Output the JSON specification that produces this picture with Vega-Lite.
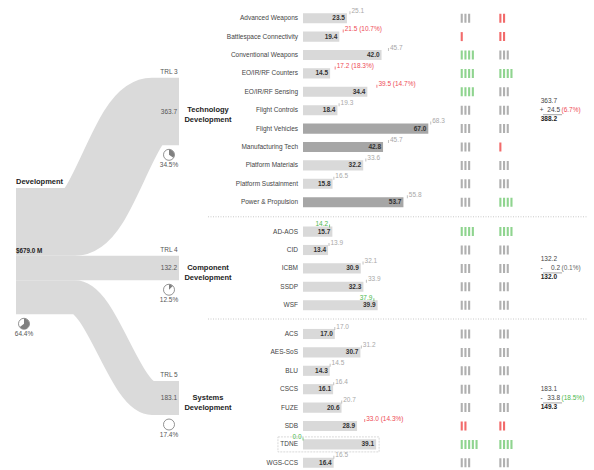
{
  "$schema": "https://vega.github.io/schema/vega-lite/v6.json",
  "padding": {"left": 0, "top": 7, "right": 0, "bottom": 0},
  "bounds": "flush",
  "spacing": 0,
  "config": {
    "view": {"stroke": null},
    "font": "Liberation Sans",
    "text": {"font": "Liberation Sans", "fontSize": 6.5, "color": "#333", "baseline": "middle"}
  },
  "datasets": {
    "flows": [
      {"node": "Technology Development", "stage": 0, "pos": 181.85, "amount": 363.7},
      {"node": "Technology Development", "stage": 1, "pos": 181.85, "amount": 363.7},
      {"node": "Technology Development", "stage": 2, "pos": -411.3, "amount": 363.7},
      {"node": "Technology Development", "stage": 3, "pos": -411.3, "amount": 363.7},
      {"node": "Component Development", "stage": 0, "pos": 429.8, "amount": 132.2},
      {"node": "Component Development", "stage": 1, "pos": 429.8, "amount": 132.2},
      {"node": "Component Development", "stage": 2, "pos": 429.8, "amount": 132.2},
      {"node": "Component Development", "stage": 3, "pos": 429.8, "amount": 132.2},
      {"node": "Systems Development", "stage": 0, "pos": 587.45, "amount": 183.1},
      {"node": "Systems Development", "stage": 1, "pos": 587.45, "amount": 183.1},
      {"node": "Systems Development", "stage": 2, "pos": 1129, "amount": 183.1},
      {"node": "Systems Development", "stage": 3, "pos": 1129, "amount": 183.1}
    ],
    "nodes": [
      {"node": "Technology Development", "trl": "TRL 3", "amount": 363.7, "share": 34.5, "pos": -411.3},
      {"node": "Component Development", "trl": "TRL 4", "amount": 132.2, "share": 12.5, "pos": 429.8},
      {"node": "Systems Development", "trl": "TRL 5", "amount": 183.1, "share": 17.4, "pos": 1129}
    ],
    "source": [{"node": "Development", "amount": 679.0, "share": 64.4}],
    "summary": [
      {"group": "Technology Development", "budget": 363.7, "change": 24.5, "changePct": 6.7, "total": 388.2},
      {"group": "Component Development", "budget": 132.2, "change": -0.2, "changePct": -0.1, "total": 132.0},
      {"group": "Systems Development", "budget": 183.1, "change": -33.8, "changePct": -18.5, "total": 149.3}
    ],
    "items": [
      {"group": "Technology Development", "item": "Advanced Weapons", "value": 23.5, "target": 25.1, "s1": 3, "s2": 2},
      {"group": "Technology Development", "item": "Battlespace Connectivity", "value": 19.4, "target": 21.5, "pct": 10.7, "s1": 1, "s2": 2},
      {"group": "Technology Development", "item": "Conventional Weapons", "value": 42.0, "target": 45.7, "s1": 4, "s2": 3},
      {"group": "Technology Development", "item": "EO/IR/RF Counters", "value": 14.5, "target": 17.2, "pct": 18.3, "s1": 4, "s2": 4},
      {"group": "Technology Development", "item": "EO/IR/RF Sensing", "value": 34.4, "target": 39.5, "pct": 14.7, "s1": 4, "s2": 3},
      {"group": "Technology Development", "item": "Flight Controls", "value": 18.4, "target": 19.3, "s1": 3, "s2": 3},
      {"group": "Technology Development", "item": "Flight Vehicles", "value": 67.0, "target": 68.3, "core": true, "s1": 3, "s2": 3},
      {"group": "Technology Development", "item": "Manufacturing Tech", "value": 42.8, "target": 45.7, "core": true, "s1": 3, "s2": 1},
      {"group": "Technology Development", "item": "Platform Materials", "value": 32.2, "target": 33.6, "s1": 3, "s2": 3},
      {"group": "Technology Development", "item": "Platform Sustainment", "value": 15.8, "target": 16.5, "s1": 3, "s2": 3},
      {"group": "Technology Development", "item": "Power & Propulsion", "value": 53.7, "target": 55.8, "core": true, "s1": 3, "s2": 4},
      {"group": "Component Development", "item": "AD-AOS", "value": 15.7, "target": 14.2, "s1": 4, "s2": 4},
      {"group": "Component Development", "item": "CID", "value": 13.4, "target": 13.9, "s1": 3, "s2": 3},
      {"group": "Component Development", "item": "ICBM", "value": 30.9, "target": 32.1, "s1": 3, "s2": 3},
      {"group": "Component Development", "item": "SSDP", "value": 32.3, "target": 33.9, "s1": 3, "s2": 3},
      {"group": "Component Development", "item": "WSF", "value": 39.9, "target": 37.9, "s1": 3, "s2": 3},
      {"group": "Systems Development", "item": "ACS", "value": 17.0, "target": 17.0, "s1": 3, "s2": 3},
      {"group": "Systems Development", "item": "AES-SoS", "value": 30.7, "target": 31.2, "s1": 3, "s2": 3},
      {"group": "Systems Development", "item": "BLU", "value": 14.3, "target": 14.5, "s1": 3, "s2": 3},
      {"group": "Systems Development", "item": "CSCS", "value": 16.1, "target": 16.4, "s1": 3, "s2": 3},
      {"group": "Systems Development", "item": "FUZE", "value": 20.6, "target": 20.7, "s1": 3, "s2": 3},
      {"group": "Systems Development", "item": "SDB", "value": 28.9, "target": 33.0, "pct": 14.3, "s1": 2, "s2": 2},
      {"group": "Systems Development", "item": "TDNE", "value": 39.1, "target": 0.0, "s1": 5, "s2": 4},
      {"group": "Systems Development", "item": "WGS-CCS", "value": 16.4, "target": 16.5, "s1": 3, "s2": 3}
    ]
  },
  "resolve": {"scale": {"x": "independent", "y": "independent"}},
  "hconcat": [
    {
      "width": 200,
      "height": 462,
      "layer": [
        {
          "data": {"name": "flows"},
          "mark": {"type": "line", "interpolate": "monotone", "color": "#dadada", "strokeCap": "butt", "strokeJoin": "round", "clip": true},
          "encoding": {
            "x": {"field": "stage", "type": "quantitative", "scale": {"domain": [0, 1, 2, 3], "range": [16, 75, 152, 179], "nice": false, "zero": false}, "axis": null},
            "y": {"field": "pos", "type": "quantitative", "scale": {"domain": [-962.4, 1521.5], "reverse": true, "nice": false, "zero": false}, "axis": null},
            "detail": {"field": "node"},
            "strokeWidth": {"field": "amount", "type": "quantitative", "scale": {"domain": [0, 679], "range": [0, 126.3]}, "legend": null}
          }
        },
        {
          "data": {"name": "nodes"},
          "transform": [
            {"calculate": "datum.pos - datum.amount / 2", "as": "top"},
            {"calculate": "datum.pos + datum.amount / 2", "as": "bottom"},
            {"calculate": "format(datum.share, '.1f') + '%'", "as": "shareLabel"}
          ],
          "encoding": {
            "x": {"datum": 3, "type": "quantitative", "scale": {"domain": [0, 1, 2, 3], "range": [16, 75, 152, 179], "nice": false, "zero": false}, "axis": null}
          },
          "layer": [
            {
              "mark": {"type": "text", "align": "center", "dx": -10, "dy": -5.5, "fontSize": 6.5, "color": "#555"},
              "encoding": {
                "y": {"field": "top", "type": "quantitative", "scale": {"domain": [-962.4, 1521.5], "reverse": true, "nice": false, "zero": false}, "axis": null},
                "text": {"field": "trl"}
              }
            },
            {
              "mark": {"type": "text", "align": "center", "dx": -10, "fontSize": 6.5, "color": "#555"},
              "encoding": {
                "y": {"field": "pos", "type": "quantitative", "scale": {"domain": [-962.4, 1521.5], "reverse": true, "nice": false, "zero": false}, "axis": null},
                "text": {"field": "amount", "format": ".1f"}
              }
            },
            {
              "mark": {"type": "point", "shape": "circle", "size": 121, "filled": true, "color": "white", "stroke": "#777", "strokeWidth": 0.8, "opacity": 1, "xOffset": -10, "yOffset": 9.5},
              "encoding": {
                "y": {"field": "bottom", "type": "quantitative", "scale": {"domain": [-962.4, 1521.5], "reverse": true, "nice": false, "zero": false}, "axis": null}
              }
            },
            {
              "mark": {"type": "arc", "outerRadius": 5.3, "color": "#808080", "xOffset": -10, "yOffset": 9.5},
              "encoding": {
                "y": {"field": "bottom", "type": "quantitative", "scale": {"domain": [-962.4, 1521.5], "reverse": true, "nice": false, "zero": false}, "axis": null},
                "theta": {"field": "share", "type": "quantitative", "stack": null, "scale": {"domain": [0, 100], "range": [0, 6.2832], "zero": true}}
              }
            },
            {
              "mark": {"type": "text", "align": "center", "dx": -10, "dy": 20, "fontSize": 6.5, "color": "#555"},
              "encoding": {
                "y": {"field": "bottom", "type": "quantitative", "scale": {"domain": [-962.4, 1521.5], "reverse": true, "nice": false, "zero": false}, "axis": null},
                "text": {"field": "shareLabel"}
              }
            }
          ]
        },
        {
          "data": {"name": "source"},
          "transform": [
            {"calculate": "datum.amount / 2", "as": "mid"},
            {"calculate": "'$' + format(datum.amount, '.1f') + ' M'", "as": "amountLabel"},
            {"calculate": "format(datum.share, '.1f') + '%'", "as": "shareLabel"}
          ],
          "encoding": {
            "x": {"datum": 0, "type": "quantitative", "scale": {"domain": [0, 1, 2, 3], "range": [16, 75, 152, 179], "nice": false, "zero": false}, "axis": null}
          },
          "layer": [
            {
              "mark": {"type": "text", "align": "left", "dy": -6.5, "fontSize": 7.5, "fontWeight": "bold", "color": "#222"},
              "encoding": {
                "y": {"datum": 0, "type": "quantitative", "scale": {"domain": [-962.4, 1521.5], "reverse": true, "nice": false, "zero": false}, "axis": null},
                "text": {"field": "node"}
              }
            },
            {
              "mark": {"type": "text", "align": "left", "fontSize": 6.3, "fontWeight": "bold", "color": "#222"},
              "encoding": {
                "y": {"field": "mid", "type": "quantitative", "scale": {"domain": [-962.4, 1521.5], "reverse": true, "nice": false, "zero": false}, "axis": null},
                "text": {"field": "amountLabel"}
              }
            },
            {
              "mark": {"type": "point", "shape": "circle", "size": 121, "filled": true, "color": "white", "stroke": "#777", "strokeWidth": 0.8, "opacity": 1, "xOffset": 8, "yOffset": 9.5},
              "encoding": {
                "y": {"field": "amount", "type": "quantitative", "scale": {"domain": [-962.4, 1521.5], "reverse": true, "nice": false, "zero": false}, "axis": null}
              }
            },
            {
              "mark": {"type": "arc", "outerRadius": 5.3, "color": "#808080", "xOffset": 8, "yOffset": 9.5},
              "encoding": {
                "y": {"field": "amount", "type": "quantitative", "scale": {"domain": [-962.4, 1521.5], "reverse": true, "nice": false, "zero": false}, "axis": null},
                "theta": {"field": "share", "type": "quantitative", "stack": null, "scale": {"domain": [0, 100], "range": [0, 6.2832], "zero": true}}
              }
            },
            {
              "mark": {"type": "text", "align": "center", "dx": 8, "dy": 20, "fontSize": 6.5, "color": "#555"},
              "encoding": {
                "y": {"field": "amount", "type": "quantitative", "scale": {"domain": [-962.4, 1521.5], "reverse": true, "nice": false, "zero": false}, "axis": null},
                "text": {"field": "shareLabel"}
              }
            }
          ]
        }
      ]
    },
    {
      "vconcat": [
        {
          "width": 394,
          "height": {"step": 18.4},
          "resolve": {"scale": {"x": "independent"}},
          "layer": [
            {
              "data": {"name": "items"},
              "transform": [
                {"filter": "datum.group === 'Technology Development'"},
                {"calculate": "format(datum.target, '.1f') + (isValid(datum.pct) ? ' (' + format(datum.pct, '.1f') + '%)' : '')", "as": "label"}
              ],
              "encoding": {"y": {"field": "item", "type": "nominal", "axis": null, "scale": {"paddingInner": 0.45, "paddingOuter": 0.225}}},
              "layer": [
                {"mark": {"type": "text", "align": "right", "dx": -5, "fontSize": 6.5, "color": "#444"},
                 "encoding": {"x": {"datum": 0, "type": "quantitative", "scale": {"domain": [-55.08, 155.6], "nice": false, "zero": false}, "axis": null}, "text": {"field": "item"}}},
                {"mark": {"type": "bar"},
                 "encoding": {"x": {"field": "value", "type": "quantitative", "scale": {"domain": [-55.08, 155.6], "nice": false, "zero": false}, "axis": null},
                   "color": {"condition": {"test": "datum.core", "value": "#a6a6a6"}, "value": "#d9d9d9"}}},
                {"mark": {"type": "text", "align": "right", "dx": -2, "fontSize": 6.5, "fontWeight": "bold", "color": "#333"},
                 "encoding": {"x": {"field": "value", "type": "quantitative", "scale": {"domain": [-55.08, 155.6], "nice": false, "zero": false}, "axis": null}, "text": {"field": "value", "format": ".1f"}}},
                {"mark": {"type": "tick", "orient": "vertical", "size": 3, "thickness": 1, "yOffset": -5.5},
                 "encoding": {"x": {"field": "target", "type": "quantitative", "scale": {"domain": [-55.08, 155.6], "nice": false, "zero": false}, "axis": null},
                   "color": {"condition": [{"test": "datum.target < datum.value", "value": "#4cb84c"}, {"test": "isValid(datum.pct)", "value": "#ee4b55"}], "value": "#a8a8a8"}}},
                {"transform": [{"filter": "datum.target >= datum.value"}],
                 "mark": {"type": "text", "align": "left", "dx": 1.5, "dy": -7.5, "fontSize": 6.5},
                 "encoding": {"x": {"field": "target", "type": "quantitative", "scale": {"domain": [-55.08, 155.6], "nice": false, "zero": false}, "axis": null}, "text": {"field": "label"},
                   "color": {"condition": [{"test": "datum.target < datum.value", "value": "#4cb84c"}, {"test": "isValid(datum.pct)", "value": "#ee4b55"}], "value": "#a8a8a8"}}},
                {"transform": [{"filter": "datum.target < datum.value"}],
                 "mark": {"type": "text", "align": "right", "dx": -1.5, "dy": -7.5, "fontSize": 6.5},
                 "encoding": {"x": {"field": "target", "type": "quantitative", "scale": {"domain": [-55.08, 155.6], "nice": false, "zero": false}, "axis": null}, "text": {"field": "label"},
                   "color": {"condition": [{"test": "datum.target < datum.value", "value": "#4cb84c"}, {"test": "isValid(datum.pct)", "value": "#ee4b55"}], "value": "#a8a8a8"}}}
              ]
            },
            {
              "data": {"name": "items"},
              "transform": [{"filter": "datum.group === 'Technology Development'"}],
              "mark": {"type": "rule", "strokeWidth": 9, "strokeDash": [2.1, 1.6], "xOffset": -1.6},
              "encoding": {
                "y": {"field": "item", "type": "nominal", "axis": null, "scale": {"paddingInner": 0.45, "paddingOuter": 0.225}},
                "x": {"field": "s1", "type": "quantitative", "scale": {"domain": [-70.46, 36.03], "nice": false, "zero": false}, "axis": null},
                "x2": {"datum": 0},
                "color": {"condition": [{"test": "datum.s1 <= 2", "value": "#f26b6b"}, {"test": "datum.s1 >= 4", "value": "#8fd48f"}], "value": "#b0b0b0"}
              }
            },
            {
              "data": {"name": "items"},
              "transform": [{"filter": "datum.group === 'Technology Development'"}],
              "mark": {"type": "rule", "strokeWidth": 9, "strokeDash": [2.1, 1.6], "xOffset": -1.6},
              "encoding": {
                "y": {"field": "item", "type": "nominal", "axis": null, "scale": {"paddingInner": 0.45, "paddingOuter": 0.225}},
                "x": {"field": "s2", "type": "quantitative", "scale": {"domain": [-80.89, 25.59], "nice": false, "zero": false}, "axis": null},
                "x2": {"datum": 0},
                "color": {"condition": [{"test": "datum.s2 <= 2", "value": "#f26b6b"}, {"test": "datum.s2 >= 4", "value": "#8fd48f"}], "value": "#b0b0b0"}
              }
            },
            {
              "data": {"name": "summary"},
              "transform": [
                {"filter": "datum.group === 'Technology Development'"},
                {"calculate": "datum.change >= 0 ? '+' : '-'", "as": "sign"},
                {"calculate": "abs(datum.change)", "as": "absChange"},
                {"calculate": "'(' + format(abs(datum.changePct), '.1f') + '%)'", "as": "pctLabel"}
              ],
              "encoding": {"y": {"datum": "Flight Controls", "type": "nominal", "axis": null}},
              "layer": [
                {"mark": {"type": "text", "align": "center", "fontSize": 7.5, "fontWeight": "bold", "color": "#222", "lineBreak": " ", "lineHeight": 10},
                 "encoding": {"x": {"datum": -50.8, "type": "quantitative", "scale": {"domain": [-55.08, 155.6], "nice": false, "zero": false}, "axis": null}, "text": {"field": "group"}}},
                {"mark": {"type": "text", "align": "right", "dy": -9, "fontSize": 6.5, "color": "#444"},
                 "encoding": {"x": {"datum": 135.83, "type": "quantitative", "scale": {"domain": [-55.08, 155.6], "nice": false, "zero": false}, "axis": null}, "text": {"field": "budget", "format": ".1f"}}},
                {"mark": {"type": "text", "align": "center", "fontSize": 6.5, "color": "#444"},
                 "encoding": {"x": {"datum": 127.54, "type": "quantitative", "scale": {"domain": [-55.08, 155.6], "nice": false, "zero": false}, "axis": null}, "text": {"field": "sign"}}},
                {"mark": {"type": "text", "align": "right", "fontSize": 6.5, "color": "#444"},
                 "encoding": {"x": {"datum": 137.43, "type": "quantitative", "scale": {"domain": [-55.08, 155.6], "nice": false, "zero": false}, "axis": null}, "text": {"field": "absChange", "format": ".1f"}}},
                {"mark": {"type": "text", "align": "left", "fontSize": 6.5},
                 "encoding": {"x": {"datum": 138.24, "type": "quantitative", "scale": {"domain": [-55.08, 155.6], "nice": false, "zero": false}, "axis": null}, "text": {"field": "pctLabel"},
                   "color": {"condition": [{"test": "datum.change > 1", "value": "#ee4b55"}, {"test": "datum.change < -1", "value": "#4cb84c"}], "value": "#666"}}},
                {"mark": {"type": "text", "align": "right", "dy": 9, "fontSize": 6.5, "fontWeight": "bold", "color": "#222"},
                 "encoding": {"x": {"datum": 135.83, "type": "quantitative", "scale": {"domain": [-55.08, 155.6], "nice": false, "zero": false}, "axis": null}, "text": {"field": "total", "format": ".1f"}}},
                {"mark": {"type": "rule", "color": "#666", "strokeWidth": 0.6, "yOffset": 4.5},
                 "encoding": {"x": {"datum": 128.34, "type": "quantitative", "scale": {"domain": [-55.08, 155.6], "nice": false, "zero": false}, "axis": null}, "x2": {"datum": 138.51}}}
              ]
            }
          ]
        },
        {
          "width": 394,
          "height": {"step": 18.4},
          "resolve": {"scale": {"x": "independent"}},
          "layer": [
            {
              "data": {"name": "items"},
              "transform": [
                {"filter": "datum.group === 'Component Development'"},
                {"calculate": "format(datum.target, '.1f') + (isValid(datum.pct) ? ' (' + format(datum.pct, '.1f') + '%)' : '')", "as": "label"}
              ],
              "encoding": {"y": {"field": "item", "type": "nominal", "axis": null, "scale": {"paddingInner": 0.45, "paddingOuter": 0.225}}},
              "layer": [
                {"mark": {"type": "text", "align": "right", "dx": -5, "fontSize": 6.5, "color": "#444"},
                 "encoding": {"x": {"datum": 0, "type": "quantitative", "scale": {"domain": [-55.08, 155.6], "nice": false, "zero": false}, "axis": null}, "text": {"field": "item"}}},
                {"mark": {"type": "bar"},
                 "encoding": {"x": {"field": "value", "type": "quantitative", "scale": {"domain": [-55.08, 155.6], "nice": false, "zero": false}, "axis": null},
                   "color": {"condition": {"test": "datum.core", "value": "#a6a6a6"}, "value": "#d9d9d9"}}},
                {"mark": {"type": "text", "align": "right", "dx": -2, "fontSize": 6.5, "fontWeight": "bold", "color": "#333"},
                 "encoding": {"x": {"field": "value", "type": "quantitative", "scale": {"domain": [-55.08, 155.6], "nice": false, "zero": false}, "axis": null}, "text": {"field": "value", "format": ".1f"}}},
                {"mark": {"type": "tick", "orient": "vertical", "size": 3, "thickness": 1, "yOffset": -5.5},
                 "encoding": {"x": {"field": "target", "type": "quantitative", "scale": {"domain": [-55.08, 155.6], "nice": false, "zero": false}, "axis": null},
                   "color": {"condition": [{"test": "datum.target < datum.value", "value": "#4cb84c"}, {"test": "isValid(datum.pct)", "value": "#ee4b55"}], "value": "#a8a8a8"}}},
                {"transform": [{"filter": "datum.target >= datum.value"}],
                 "mark": {"type": "text", "align": "left", "dx": 1.5, "dy": -7.5, "fontSize": 6.5},
                 "encoding": {"x": {"field": "target", "type": "quantitative", "scale": {"domain": [-55.08, 155.6], "nice": false, "zero": false}, "axis": null}, "text": {"field": "label"},
                   "color": {"condition": [{"test": "datum.target < datum.value", "value": "#4cb84c"}, {"test": "isValid(datum.pct)", "value": "#ee4b55"}], "value": "#a8a8a8"}}},
                {"transform": [{"filter": "datum.target < datum.value"}],
                 "mark": {"type": "text", "align": "right", "dx": -1.5, "dy": -7.5, "fontSize": 6.5},
                 "encoding": {"x": {"field": "target", "type": "quantitative", "scale": {"domain": [-55.08, 155.6], "nice": false, "zero": false}, "axis": null}, "text": {"field": "label"},
                   "color": {"condition": [{"test": "datum.target < datum.value", "value": "#4cb84c"}, {"test": "isValid(datum.pct)", "value": "#ee4b55"}], "value": "#a8a8a8"}}}
              ]
            },
            {
              "data": {"name": "items"},
              "transform": [{"filter": "datum.group === 'Component Development'"}],
              "mark": {"type": "rule", "strokeWidth": 9, "strokeDash": [2.1, 1.6], "xOffset": -1.6},
              "encoding": {
                "y": {"field": "item", "type": "nominal", "axis": null, "scale": {"paddingInner": 0.45, "paddingOuter": 0.225}},
                "x": {"field": "s1", "type": "quantitative", "scale": {"domain": [-70.46, 36.03], "nice": false, "zero": false}, "axis": null},
                "x2": {"datum": 0},
                "color": {"condition": [{"test": "datum.s1 <= 2", "value": "#f26b6b"}, {"test": "datum.s1 >= 4", "value": "#8fd48f"}], "value": "#b0b0b0"}
              }
            },
            {
              "data": {"name": "items"},
              "transform": [{"filter": "datum.group === 'Component Development'"}],
              "mark": {"type": "rule", "strokeWidth": 9, "strokeDash": [2.1, 1.6], "xOffset": -1.6},
              "encoding": {
                "y": {"field": "item", "type": "nominal", "axis": null, "scale": {"paddingInner": 0.45, "paddingOuter": 0.225}},
                "x": {"field": "s2", "type": "quantitative", "scale": {"domain": [-80.89, 25.59], "nice": false, "zero": false}, "axis": null},
                "x2": {"datum": 0},
                "color": {"condition": [{"test": "datum.s2 <= 2", "value": "#f26b6b"}, {"test": "datum.s2 >= 4", "value": "#8fd48f"}], "value": "#b0b0b0"}
              }
            },
            {
              "data": {"name": "summary"},
              "transform": [
                {"filter": "datum.group === 'Component Development'"},
                {"calculate": "datum.change >= 0 ? '+' : '-'", "as": "sign"},
                {"calculate": "abs(datum.change)", "as": "absChange"},
                {"calculate": "'(' + format(abs(datum.changePct), '.1f') + '%)'", "as": "pctLabel"}
              ],
              "encoding": {"y": {"datum": "ICBM", "type": "nominal", "axis": null}},
              "layer": [
                {"mark": {"type": "rule", "color": "#c8c8c8", "strokeDash": [1, 1.5], "strokeWidth": 1, "yOffset": -51.6},
                 "encoding": {"x": {"datum": -50.8, "type": "quantitative", "scale": {"domain": [-55.08, 155.6], "nice": false, "zero": false}, "axis": null}, "x2": {"datum": 152.4}}},
                {"mark": {"type": "text", "align": "center", "fontSize": 7.5, "fontWeight": "bold", "color": "#222", "lineBreak": " ", "lineHeight": 10},
                 "encoding": {"x": {"datum": -50.8, "type": "quantitative", "scale": {"domain": [-55.08, 155.6], "nice": false, "zero": false}, "axis": null}, "text": {"field": "group"}}},
                {"mark": {"type": "text", "align": "right", "dy": -9, "fontSize": 6.5, "color": "#444"},
                 "encoding": {"x": {"datum": 135.83, "type": "quantitative", "scale": {"domain": [-55.08, 155.6], "nice": false, "zero": false}, "axis": null}, "text": {"field": "budget", "format": ".1f"}}},
                {"mark": {"type": "text", "align": "center", "fontSize": 6.5, "color": "#444"},
                 "encoding": {"x": {"datum": 127.54, "type": "quantitative", "scale": {"domain": [-55.08, 155.6], "nice": false, "zero": false}, "axis": null}, "text": {"field": "sign"}}},
                {"mark": {"type": "text", "align": "right", "fontSize": 6.5, "color": "#444"},
                 "encoding": {"x": {"datum": 137.43, "type": "quantitative", "scale": {"domain": [-55.08, 155.6], "nice": false, "zero": false}, "axis": null}, "text": {"field": "absChange", "format": ".1f"}}},
                {"mark": {"type": "text", "align": "left", "fontSize": 6.5},
                 "encoding": {"x": {"datum": 138.24, "type": "quantitative", "scale": {"domain": [-55.08, 155.6], "nice": false, "zero": false}, "axis": null}, "text": {"field": "pctLabel"},
                   "color": {"condition": [{"test": "datum.change > 1", "value": "#ee4b55"}, {"test": "datum.change < -1", "value": "#4cb84c"}], "value": "#666"}}},
                {"mark": {"type": "text", "align": "right", "dy": 9, "fontSize": 6.5, "fontWeight": "bold", "color": "#222"},
                 "encoding": {"x": {"datum": 135.83, "type": "quantitative", "scale": {"domain": [-55.08, 155.6], "nice": false, "zero": false}, "axis": null}, "text": {"field": "total", "format": ".1f"}}},
                {"mark": {"type": "rule", "color": "#666", "strokeWidth": 0.6, "yOffset": 4.5},
                 "encoding": {"x": {"datum": 128.34, "type": "quantitative", "scale": {"domain": [-55.08, 155.6], "nice": false, "zero": false}, "axis": null}, "x2": {"datum": 138.51}}}
              ]
            }
          ]
        },
        {
          "width": 394,
          "height": {"step": 18.4},
          "resolve": {"scale": {"x": "independent"}},
          "layer": [
            {
              "data": {"name": "items"},
              "transform": [
                {"filter": "datum.group === 'Systems Development'"},
                {"calculate": "format(datum.target, '.1f') + (isValid(datum.pct) ? ' (' + format(datum.pct, '.1f') + '%)' : '')", "as": "label"}
              ],
              "encoding": {"y": {"field": "item", "type": "nominal", "axis": null, "scale": {"paddingInner": 0.45, "paddingOuter": 0.225}}},
              "layer": [
                {"transform": [{"filter": "datum.item === 'TDNE'"}],
                 "mark": {"type": "bar", "height": 15, "filled": false, "color": "#cfcfcf", "strokeWidth": 0.8, "strokeDash": [2, 1], "xOffset": 3},
                 "encoding": {"x": {"field": "value", "type": "quantitative", "scale": {"domain": [-55.08, 155.6], "nice": false, "zero": false}, "axis": null}, "x2": {"datum": -13.4}}},
                {"mark": {"type": "text", "align": "right", "dx": -5, "fontSize": 6.5, "color": "#444"},
                 "encoding": {"x": {"datum": 0, "type": "quantitative", "scale": {"domain": [-55.08, 155.6], "nice": false, "zero": false}, "axis": null}, "text": {"field": "item"}}},
                {"mark": {"type": "bar"},
                 "encoding": {"x": {"field": "value", "type": "quantitative", "scale": {"domain": [-55.08, 155.6], "nice": false, "zero": false}, "axis": null},
                   "color": {"condition": {"test": "datum.core", "value": "#a6a6a6"}, "value": "#d9d9d9"}}},
                {"mark": {"type": "text", "align": "right", "dx": -2, "fontSize": 6.5, "fontWeight": "bold", "color": "#333"},
                 "encoding": {"x": {"field": "value", "type": "quantitative", "scale": {"domain": [-55.08, 155.6], "nice": false, "zero": false}, "axis": null}, "text": {"field": "value", "format": ".1f"}}},
                {"mark": {"type": "tick", "orient": "vertical", "size": 3, "thickness": 1, "yOffset": -5.5},
                 "encoding": {"x": {"field": "target", "type": "quantitative", "scale": {"domain": [-55.08, 155.6], "nice": false, "zero": false}, "axis": null},
                   "color": {"condition": [{"test": "datum.target < datum.value", "value": "#4cb84c"}, {"test": "isValid(datum.pct)", "value": "#ee4b55"}], "value": "#a8a8a8"}}},
                {"transform": [{"filter": "datum.target >= datum.value"}],
                 "mark": {"type": "text", "align": "left", "dx": 1.5, "dy": -7.5, "fontSize": 6.5},
                 "encoding": {"x": {"field": "target", "type": "quantitative", "scale": {"domain": [-55.08, 155.6], "nice": false, "zero": false}, "axis": null}, "text": {"field": "label"},
                   "color": {"condition": [{"test": "datum.target < datum.value", "value": "#4cb84c"}, {"test": "isValid(datum.pct)", "value": "#ee4b55"}], "value": "#a8a8a8"}}},
                {"transform": [{"filter": "datum.target < datum.value"}],
                 "mark": {"type": "text", "align": "right", "dx": -1.5, "dy": -7.5, "fontSize": 6.5},
                 "encoding": {"x": {"field": "target", "type": "quantitative", "scale": {"domain": [-55.08, 155.6], "nice": false, "zero": false}, "axis": null}, "text": {"field": "label"},
                   "color": {"condition": [{"test": "datum.target < datum.value", "value": "#4cb84c"}, {"test": "isValid(datum.pct)", "value": "#ee4b55"}], "value": "#a8a8a8"}}}
              ]
            },
            {
              "data": {"name": "items"},
              "transform": [{"filter": "datum.group === 'Systems Development'"}],
              "mark": {"type": "rule", "strokeWidth": 9, "strokeDash": [2.1, 1.6], "xOffset": -1.6},
              "encoding": {
                "y": {"field": "item", "type": "nominal", "axis": null, "scale": {"paddingInner": 0.45, "paddingOuter": 0.225}},
                "x": {"field": "s1", "type": "quantitative", "scale": {"domain": [-70.46, 36.03], "nice": false, "zero": false}, "axis": null},
                "x2": {"datum": 0},
                "color": {"condition": [{"test": "datum.s1 <= 2", "value": "#f26b6b"}, {"test": "datum.s1 >= 4", "value": "#8fd48f"}], "value": "#b0b0b0"}
              }
            },
            {
              "data": {"name": "items"},
              "transform": [{"filter": "datum.group === 'Systems Development'"}],
              "mark": {"type": "rule", "strokeWidth": 9, "strokeDash": [2.1, 1.6], "xOffset": -1.6},
              "encoding": {
                "y": {"field": "item", "type": "nominal", "axis": null, "scale": {"paddingInner": 0.45, "paddingOuter": 0.225}},
                "x": {"field": "s2", "type": "quantitative", "scale": {"domain": [-80.89, 25.59], "nice": false, "zero": false}, "axis": null},
                "x2": {"datum": 0},
                "color": {"condition": [{"test": "datum.s2 <= 2", "value": "#f26b6b"}, {"test": "datum.s2 >= 4", "value": "#8fd48f"}], "value": "#b0b0b0"}
              }
            },
            {
              "data": {"name": "summary"},
              "transform": [
                {"filter": "datum.group === 'Systems Development'"},
                {"calculate": "datum.change >= 0 ? '+' : '-'", "as": "sign"},
                {"calculate": "abs(datum.change)", "as": "absChange"},
                {"calculate": "'(' + format(abs(datum.changePct), '.1f') + '%)'", "as": "pctLabel"}
              ],
              "encoding": {"y": {"datum": "FUZE", "type": "nominal", "axis": null}},
              "layer": [
                {"mark": {"type": "rule", "color": "#c8c8c8", "strokeDash": [1, 1.5], "strokeWidth": 1, "yOffset": -88.6},
                 "encoding": {"x": {"datum": -50.8, "type": "quantitative", "scale": {"domain": [-55.08, 155.6], "nice": false, "zero": false}, "axis": null}, "x2": {"datum": 152.4}}},
                {"mark": {"type": "text", "align": "center", "dy": -9.2, "fontSize": 7.5, "fontWeight": "bold", "color": "#222", "lineBreak": " ", "lineHeight": 10},
                 "encoding": {"x": {"datum": -50.8, "type": "quantitative", "scale": {"domain": [-55.08, 155.6], "nice": false, "zero": false}, "axis": null}, "text": {"field": "group"}}},
                {"mark": {"type": "text", "align": "right", "dy": -18.2, "fontSize": 6.5, "color": "#444"},
                 "encoding": {"x": {"datum": 135.83, "type": "quantitative", "scale": {"domain": [-55.08, 155.6], "nice": false, "zero": false}, "axis": null}, "text": {"field": "budget", "format": ".1f"}}},
                {"mark": {"type": "text", "align": "center", "dy": -9.2, "fontSize": 6.5, "color": "#444"},
                 "encoding": {"x": {"datum": 127.54, "type": "quantitative", "scale": {"domain": [-55.08, 155.6], "nice": false, "zero": false}, "axis": null}, "text": {"field": "sign"}}},
                {"mark": {"type": "text", "align": "right", "dy": -9.2, "fontSize": 6.5, "color": "#444"},
                 "encoding": {"x": {"datum": 137.43, "type": "quantitative", "scale": {"domain": [-55.08, 155.6], "nice": false, "zero": false}, "axis": null}, "text": {"field": "absChange", "format": ".1f"}}},
                {"mark": {"type": "text", "align": "left", "dy": -9.2, "fontSize": 6.5},
                 "encoding": {"x": {"datum": 138.24, "type": "quantitative", "scale": {"domain": [-55.08, 155.6], "nice": false, "zero": false}, "axis": null}, "text": {"field": "pctLabel"},
                   "color": {"condition": [{"test": "datum.change > 1", "value": "#ee4b55"}, {"test": "datum.change < -1", "value": "#4cb84c"}], "value": "#666"}}},
                {"mark": {"type": "text", "align": "right", "dy": -0.2, "fontSize": 6.5, "fontWeight": "bold", "color": "#222"},
                 "encoding": {"x": {"datum": 135.83, "type": "quantitative", "scale": {"domain": [-55.08, 155.6], "nice": false, "zero": false}, "axis": null}, "text": {"field": "total", "format": ".1f"}}},
                {"mark": {"type": "rule", "color": "#666", "strokeWidth": 0.6, "yOffset": -4.7},
                 "encoding": {"x": {"datum": 128.34, "type": "quantitative", "scale": {"domain": [-55.08, 155.6], "nice": false, "zero": false}, "axis": null}, "x2": {"datum": 138.51}}}
              ]
            }
          ]
        }
      ],
      "spacing": 10.4,
      "bounds": "flush",
      "resolve": {"scale": {"x": "independent", "y": "independent"}}
    }
  ]
}
